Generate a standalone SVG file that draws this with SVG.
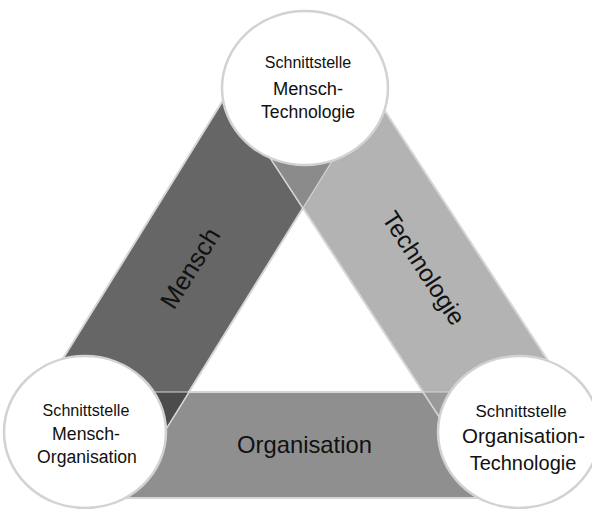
<svg xmlns="http://www.w3.org/2000/svg" width="592" height="509" viewBox="0 0 592 509">
<style>
.band{stroke:#d6d6d6;stroke-width:2;stroke-linejoin:round}
.ov{stroke:#d6d6d6;stroke-width:1.2}
.circ{fill:#ffffff;stroke:#d2d2d2;stroke-width:2.5}
text{font-family:"Liberation Sans",Arial,sans-serif;fill:#111111;text-anchor:middle}
</style>
<rect width="592" height="509" fill="#ffffff"/>
<g id="band-organisation">
<polygon class="band" fill="#8f8f8f" points="100,392 540,392 540,498 100,498"/>
</g>
<g id="band-mensch">
<polygon class="band" fill="#666666" points="235.6,80 342,145 155.4,446 48.4,382"/>
</g>
<g id="band-technologie">
<polygon class="band" fill="#b3b3b3" points="364.7,80 563.9,385 461,450 262.5,146"/>
</g>
<g id="overlaps">
<polygon class="ov" fill="#8b8b8b" points="303,208 262.5,146 301.9,120.5 342,145"/>
<polygon class="ov" fill="#4c4c4c" points="100,392 188.9,392 155.4,446 100,412.9"/>
<polygon class="ov" fill="#9a9a9a" points="423.2,392 540,392 540,400.1 461,450"/>
</g>
<g id="band-labels">
<text font-size="25.5" transform="translate(190,268) rotate(-58.2)" dy="0.35em">Mensch</text>
<text font-size="24.4" transform="translate(424,268) rotate(56.9)" dy="0.35em">Technologie</text>
<text font-size="23.8" x="304.5" y="453">Organisation</text>
</g>
<g id="node-mensch-technologie">
<ellipse class="circ" cx="305" cy="88" rx="83" ry="77"/>
<text font-size="16" x="308" y="68">Schnittstelle</text>
<text font-size="18.3" x="308" y="94.5">Mensch-</text>
<text font-size="17.6" x="308" y="118">Technologie</text>
</g>
<g id="node-mensch-organisation">
<ellipse class="circ" cx="85" cy="432" rx="81" ry="76"/>
<text font-size="16.1" x="86" y="415.7">Schnittstelle</text>
<text font-size="17.7" x="86" y="440">Mensch-</text>
<text font-size="17.6" x="87" y="462.7">Organisation</text>
</g>
<g id="node-organisation-technologie">
<ellipse class="circ" cx="519" cy="432" rx="81" ry="76"/>
<text font-size="16.9" x="521" y="416.7">Schnittstelle</text>
<text font-size="20.5" x="523.5" y="443.3">Organisation-</text>
<text font-size="20" x="523" y="470">Technologie</text>
</g>
</svg>
